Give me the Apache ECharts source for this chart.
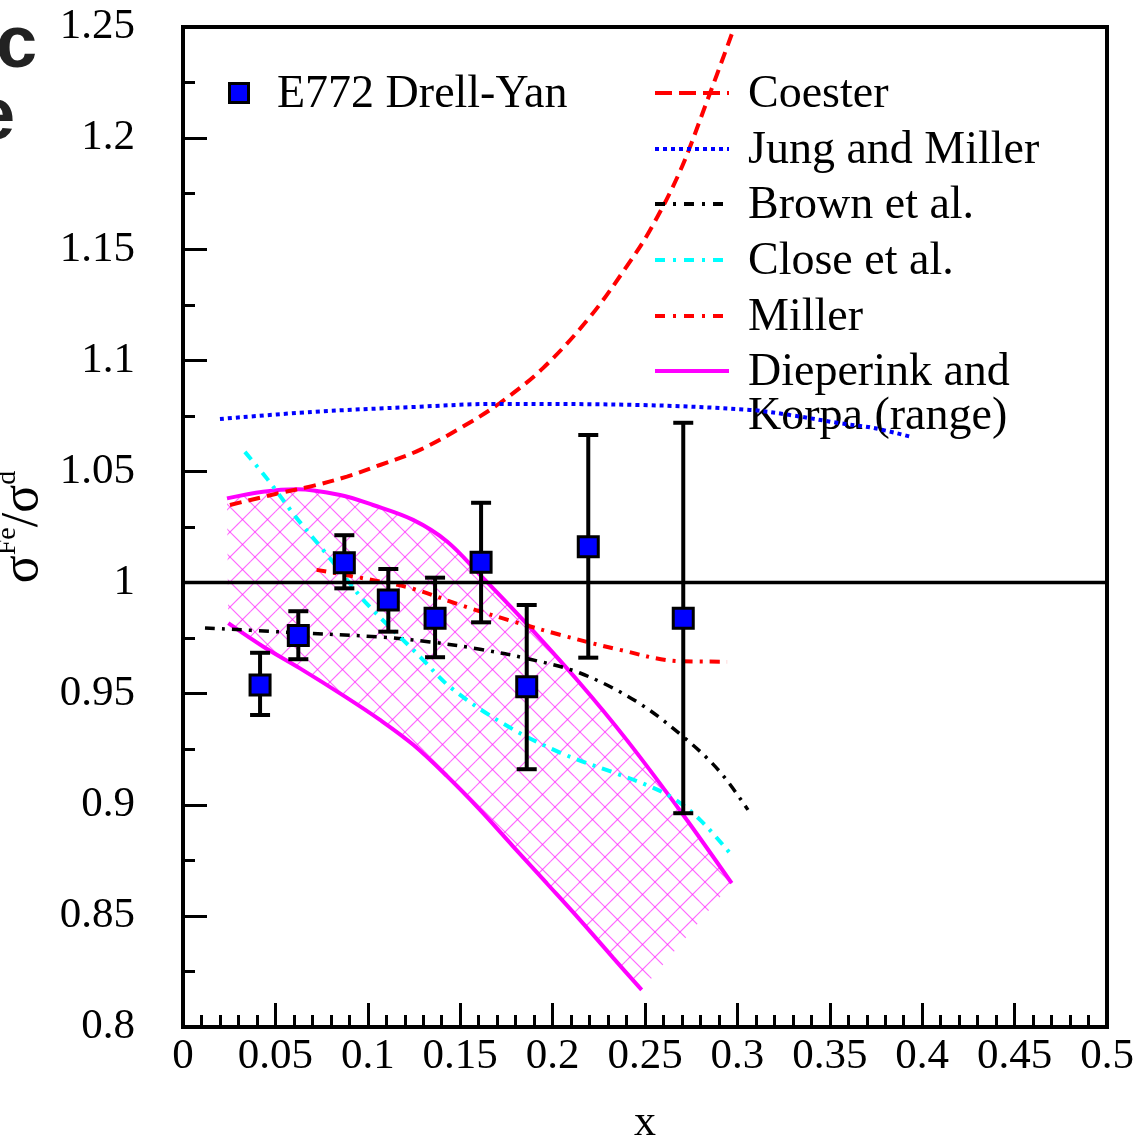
<!DOCTYPE html>
<html>
<head>
<meta charset="utf-8">
<style>html,body{margin:0;padding:0;background:#fff;}#c{width:1140px;height:1137px;}</style>
<script src="https://cdn.jsdelivr.net/npm/echarts@6/dist/echarts.min.js"></script>
</head>
<body>
<div id="c"></div>
<script>
// ---- data ----
const xTicks = [0, 0.05, 0.1, 0.15, 0.2, 0.25, 0.3, 0.35, 0.4, 0.45, 0.5];
const yTicks = [0.8, 0.85, 0.9, 0.95, 1, 1.05, 1.1, 1.15, 1.2, 1.25];

const e772X  = [0.0417, 0.0624, 0.0873, 0.1111, 0.1364, 0.1613, 0.186, 0.2193, 0.2707];
const e772Y  = [0.9539, 0.9762, 1.0089, 0.9922, 0.9839, 1.0091, 0.9531, 1.0161, 0.9839];
const e772Lo = [0.9404, 0.9655, 0.9974, 0.9779, 0.9664, 0.9821, 0.916, 0.9662, 0.8962];
const e772Hi = [0.9684, 0.9871, 1.0213, 1.0061, 1.0022, 1.0359, 0.9899, 1.0664, 1.0719];

const coester = [[0.0254,1.0349],[0.0525,1.0403],[0.0703,1.0435],[0.0887,1.0477],[0.1066,1.0529],[0.1282,1.0597],[0.1515,1.0702],[0.1715,1.0808],[0.1948,1.0965],[0.2202,1.1195],[0.2403,1.1425],[0.2527,1.1585],[0.2689,1.1850],[0.2835,1.2165],[0.2982,1.2496]];
const jungMiller = [[0.020,1.0736],[0.0703,1.0768],[0.1245,1.079],[0.170,1.0804],[0.2473,1.0799],[0.3068,1.0777],[0.3285,1.0754],[0.3555,1.0717],[0.3734,1.0696],[0.3934,1.0657]];
const brown = [[0.0119,0.9796],[0.0525,0.9778],[0.1066,0.9755],[0.1337,0.9733],[0.1607,0.9700],[0.1878,0.9655],[0.2148,0.9593],[0.2457,0.9463],[0.2727,0.9292],[0.2906,0.9148],[0.3057,0.8977]];
const close = [[0.0335,1.0588],[0.046,1.0462],[0.0606,1.0300],[0.0758,1.0147],[0.0866,1.0035],[0.0985,0.9913],[0.1282,0.9667],[0.1445,0.9530],[0.1733,0.9365],[0.204,0.9235],[0.2347,0.9140],[0.2509,0.9089],[0.2653,0.9029],[0.2798,0.8932],[0.296,0.8782]];
const miller = [[0.0723,1.0057],[0.1066,1.0005],[0.1245,0.9972],[0.1515,0.9895],[0.1786,0.9825],[0.204,0.9765],[0.2365,0.9697],[0.2689,0.9646],[0.2944,0.9644]];
const diepUpper = [[0.0238,1.0379],[0.0433,1.0409],[0.0617,1.042],[0.085,1.0394],[0.1028,1.0349],[0.1245,1.0282],[0.1429,1.0185],[0.1607,1.0035],[0.184,0.9832],[0.2148,0.9547],[0.2401,0.9292],[0.2707,0.8954],[0.2969,0.8647]];
const diepLower = [[0.0245,0.9817],[0.0435,0.9711],[0.0633,0.9614],[0.0875,0.9488],[0.1066,0.9382],[0.1246,0.9270],[0.1427,0.9130],[0.1607,0.8977],[0.1787,0.8812],[0.1968,0.8647],[0.2148,0.8482],[0.2329,0.8310],[0.2482,0.8167]];
const unityLine = [[0, 1], [0.5, 1]];

// ---- hatch pattern ----
const tile = 25;
const pat = document.createElement('canvas');
pat.width = tile; pat.height = tile;
(function(){
  const g = pat.getContext('2d');
  g.strokeStyle = 'rgba(255,30,255,0.68)';
  g.lineWidth = 1.2;
  const a = 23, b = 12;
  for (let j = -3; j <= 3; j++) {
    const c1 = a + tile * j;
    g.beginPath(); g.moveTo(c1 - 10, -10); g.lineTo(c1 + tile + 10, tile + 10); g.stroke();
    const c2 = b + tile * j;
    g.beginPath(); g.moveTo(c2 + 10, -10); g.lineTo(c2 - tile - 10, tile + 10); g.stroke();
  }
})();

const chart = echarts.init(document.getElementById('c'));
const serif = '"Liberation Serif", "Times New Roman", serif';

function lineSeries(name, data, color, dash, width) {
  return {
    name: name, type: 'line', data: data, showSymbol: false, symbol: 'none',
    smooth: 0.35, clip: true, z: 3,
    lineStyle: { color: color, width: width, type: dash }
  };
}

const DASH = [12, 7], DOT = [4, 4], DASHDOT = [10, 7, 3, 7];

const option = {
  backgroundColor: '#fff',
  animation: false,
  grid: { left: 183, right: 33, top: 27, bottom: 110, containLabel: false, outerBoundsMode: 'none',
    show: true, borderColor: '#000', borderWidth: 4, backgroundColor: 'transparent' },
  xAxis: {
    type: 'value', min: 0, max: 0.5, interval: 0.05,
    name: 'x', nameLocation: 'middle', nameGap: 74,
    nameTextStyle: { fontFamily: serif, fontSize: 44, color: '#000' },
    axisLine: { show: false },
    axisTick: { show: true, inside: true, length: 24, lineStyle: { color: '#000', width: 3 } },
    minorTick: { show: true, splitNumber: 5, length: 12, lineStyle: { color: '#000', width: 3 } },
    splitLine: { show: false },
    axisLabel: { fontFamily: serif, fontSize: 43, color: '#000', margin: 8, hideOverlap: false,
      formatter: function (v) { return String(+v.toFixed(2)); } }
  },
  yAxis: {
    type: 'value', min: 0.8, max: 1.25, interval: 0.05,
    name: '{s|σ}{sup|Fe}{s|/σ}{sup|d}', nameLocation: 'middle', nameGap: 112, nameRotate: 90,
    nameTextStyle: { fontFamily: serif, color: '#000',
      rich: {
        s: { fontFamily: serif, fontSize: 52, color: '#000', lineHeight: 58 },
        sup: { fontFamily: serif, fontSize: 28, color: '#000', verticalAlign: 'top', lineHeight: 58 }
      } },
    axisLine: { show: false },
    axisTick: { show: true, inside: true, length: 24, lineStyle: { color: '#000', width: 3 } },
    minorTick: { show: true, splitNumber: 2, length: 12, lineStyle: { color: '#000', width: 3 } },
    splitLine: { show: false },
    axisLabel: { fontFamily: serif, fontSize: 43, color: '#000', margin: 48, hideOverlap: false,
      formatter: function (v) { return String(+v.toFixed(2)); } }
  },
  graphic: [
    { type: 'text', left: -4, top: 10, style: { text: 'c', font: 'bold 74px "Liberation Sans", Arial, sans-serif', fill: '#222' } },
    { type: 'text', left: -26, top: 82, style: { text: 'e', font: 'bold 74px "Liberation Sans", Arial, sans-serif', fill: '#222' } },
    { type: 'rect', shape: { x: 229.5, y: 83.5, width: 19, height: 19 }, style: { fill: '#0000ff', stroke: '#000', lineWidth: 3 }, z: 10 },
    { type: 'text', x: 277, y: 95, style: { text: 'E772 Drell-Yan', font: '46px ' + serif, fill: '#000', verticalAlign: 'middle' }, z: 10 },
    { type: 'line', shape: { x1: 655, y1: 93, x2: 729, y2: 93 }, style: { stroke: '#ff0000', lineWidth: 4, lineDash: [17, 7] }, z: 10 },
    { type: 'text', x: 748, y: 95, style: { text: 'Coester', font: '46px ' + serif, fill: '#000', verticalAlign: 'middle' }, z: 10 },
    { type: 'line', shape: { x1: 655, y1: 149, x2: 729, y2: 149 }, style: { stroke: '#0000ff', lineWidth: 4, lineDash: [4, 4] }, z: 10 },
    { type: 'text', x: 748, y: 151, style: { text: 'Jung and Miller', font: '46px ' + serif, fill: '#000', verticalAlign: 'middle' }, z: 10 },
    { type: 'line', shape: { x1: 655, y1: 204, x2: 729, y2: 204 }, style: { stroke: '#000', lineWidth: 4, lineDash: [10, 8, 3, 8] }, z: 10 },
    { type: 'text', x: 748, y: 206, style: { text: 'Brown et al.', font: '46px ' + serif, fill: '#000', verticalAlign: 'middle' }, z: 10 },
    { type: 'line', shape: { x1: 655, y1: 260, x2: 729, y2: 260 }, style: { stroke: '#00ffff', lineWidth: 4, lineDash: [10, 8, 3, 8] }, z: 10 },
    { type: 'text', x: 748, y: 262, style: { text: 'Close et al.', font: '46px ' + serif, fill: '#000', verticalAlign: 'middle' }, z: 10 },
    { type: 'line', shape: { x1: 655, y1: 316, x2: 729, y2: 316 }, style: { stroke: '#ff0000', lineWidth: 4, lineDash: [10, 8, 3, 8] }, z: 10 },
    { type: 'text', x: 748, y: 318, style: { text: 'Miller', font: '46px ' + serif, fill: '#000', verticalAlign: 'middle' }, z: 10 },
    { type: 'line', shape: { x1: 655, y1: 371, x2: 729, y2: 371 }, style: { stroke: '#ff00ff', lineWidth: 4 }, z: 10 },
    { type: 'text', x: 748, y: 373, style: { text: 'Dieperink and', font: '46px ' + serif, fill: '#000', verticalAlign: 'middle' }, z: 10 },
    { type: 'text', x: 748, y: 417, style: { text: 'Korpa (range)', font: '46px ' + serif, fill: '#000', verticalAlign: 'middle' }, z: 1 }
  ],
  series: [
    {
      name: 'hatch', type: 'custom', coordinateSystem: 'cartesian2d', z: 1, silent: true,
      data: [[diepUpper[0][0], diepUpper[0][1]]],
      renderItem: function (params, api) {
        const pts = [];
        diepUpper.forEach(function (p) { pts.push(api.coord(p)); });
        for (let i = diepLower.length - 1; i >= 0; i--) pts.push(api.coord(diepLower[i]));
        return { type: 'polygon', shape: { points: pts }, style: { fill: { image: pat, repeat: 'repeat' }, stroke: null } };
      }
    },
    lineSeries('Dieperink upper', diepUpper, '#ff00ff', 'solid', 4),
    lineSeries('Dieperink lower', diepLower, '#ff00ff', 'solid', 4),
    lineSeries('Coester', coester, '#ff0000', DASH, 4),
    lineSeries('Jung and Miller', jungMiller, '#0000ff', DOT, 4),
    lineSeries('Brown et al.', brown, '#000000', DASHDOT, 3.5),
    lineSeries('Close et al.', close, '#00ffff', DASHDOT, 4),
    lineSeries('Miller', miller, '#ff0000', DASHDOT, 4),
    { name: 'unity', type: 'line', data: unityLine, showSymbol: false, symbol: 'none', z: 4,
      lineStyle: { color: '#000', width: 3.5 } },
    {
      name: 'errors', type: 'custom', coordinateSystem: 'cartesian2d', z: 5,
      data: e772X.map(function (x, i) { return [x, e772Lo[i], e772Hi[i]]; }),
      renderItem: function (params, api) {
        const x = api.value(0);
        const lo = api.coord([x, api.value(1)]);
        const hi = api.coord([x, api.value(2)]);
        const hw = 10;
        const st = { stroke: '#000', lineWidth: 4 };
        return { type: 'group', children: [
          { type: 'line', shape: { x1: lo[0], y1: lo[1], x2: hi[0], y2: hi[1] }, style: st },
          { type: 'line', shape: { x1: lo[0] - hw, y1: lo[1], x2: lo[0] + hw, y2: lo[1] }, style: st },
          { type: 'line', shape: { x1: hi[0] - hw, y1: hi[1], x2: hi[0] + hw, y2: hi[1] }, style: st }
        ] };
      }
    },
    {
      name: 'E772 Drell-Yan', type: 'scatter', z: 6, symbol: 'rect', symbolSize: 20,
      data: e772X.map(function (x, i) { return [x, e772Y[i]]; }),
      itemStyle: { color: '#0000ff', borderColor: '#000', borderWidth: 3, opacity: 1 }
    }
  ]
};
chart.setOption(option);
</script>
</body>
</html>
